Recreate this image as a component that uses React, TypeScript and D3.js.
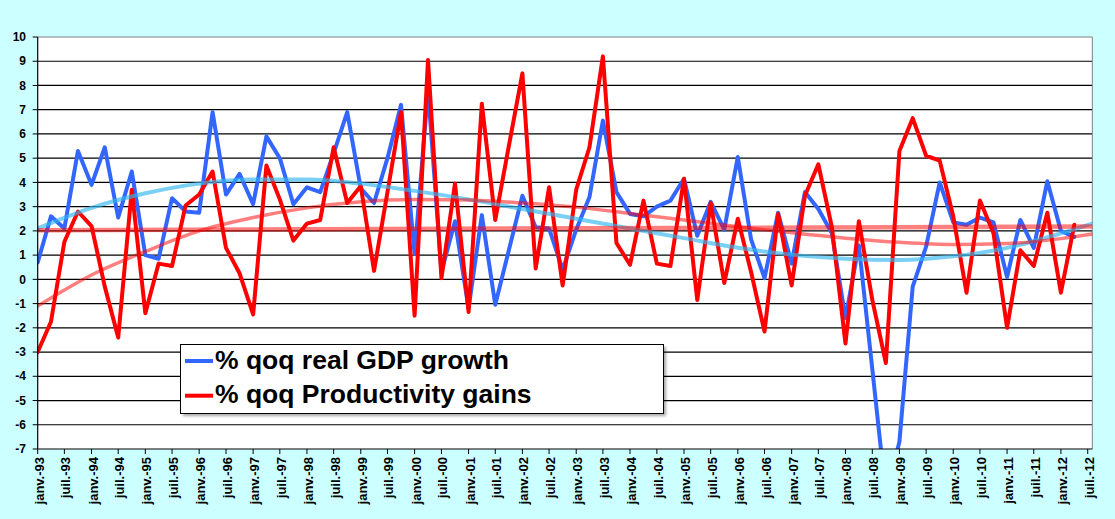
import React from 'react';
import * as d3 from 'd3';

// quarterly series, Q1 1993 .. Q2 2012 (% qoq annualised)
const gdpGrowth = [
  0.7, 2.6, 2.1, 5.3, 3.9, 5.45, 2.55, 4.45, 1.0, 0.85,
  3.35, 2.8, 2.75, 6.9, 3.5, 4.35, 3.1, 5.9, 5.0, 3.1,
  3.8, 3.6, 5.2, 6.9, 3.75, 3.15, 5.0, 7.2, 1.05, 7.8,
  0.3, 2.4, -1.2, 2.65, -1.05, 1.2, 3.45, 2.15, 2.1, 0.4,
  2.05, 3.4, 6.55, 3.6, 2.7, 2.6, 3.0, 3.25, 4.15, 1.8,
  3.2, 2.05, 5.05, 1.65, 0.05, 2.75, 0.65, 3.6, 2.9, 1.9,
  -1.6, 1.4, -3.7, -8.9, -6.7, -0.3, 1.35, 4.0, 2.35, 2.25,
  2.55, 2.35, 0.1, 2.45, 1.3, 4.05, 2.0, 1.75,
];

const productivity = [
  -3.0, -1.75, 1.55, 2.8, 2.2, -0.3, -2.4, 3.7, -1.4, 0.65,
  0.55, 3.05, 3.5, 4.45, 1.3, 0.25, -1.45, 4.7, 3.3, 1.6,
  2.3, 2.45, 5.45, 3.15, 3.85, 0.35, 3.6, 6.9, -1.5, 9.05,
  0.05, 3.95, -1.35, 7.25, 2.45, 5.5, 8.5, 0.45, 3.8, -0.25,
  3.7, 5.45, 9.2, 1.5, 0.6, 3.25, 0.65, 0.55, 4.15, -0.85,
  3.15, -0.15, 2.5, 0.3, -2.15, 2.7, -0.25, 3.45, 4.75, 2.15,
  -2.65, 2.4, -0.85, -3.45, 5.3, 6.65, 5.1, 4.9, 2.6, -0.55,
  3.25, 1.9, -2.0, 1.2, 0.55, 2.75, -0.55, 2.25,
];

// trend lines (year, value)
const trendYears = [
  1993, 1994, 1995, 1996, 1997, 1998, 1999, 2000, 2001, 2002, 2003,
  2004, 2005, 2006, 2007, 2008, 2009, 2010, 2011, 2012, 2012.58,
];
const gdpTrend = [
  2.1, 2.95, 3.55, 3.95, 4.12, 4.12, 3.95, 3.65, 3.3, 2.9, 2.5,
  2.1, 1.7, 1.3, 1.02, 0.85, 0.8, 0.95, 1.3, 1.9, 2.3,
];
const prodTrend = [
  -1.1, 0.18, 1.15, 2.0, 2.55, 2.95, 3.2, 3.3, 3.27, 3.15, 2.98,
  2.72, 2.45, 2.17, 1.92, 1.7, 1.53, 1.44, 1.48, 1.68, 1.87,
];
const prodLinearYears = [1993, 2012.58];
const prodLinear = [2.03, 2.18];

const yTicks = d3.range(-7, 11);
const legendLabels = ['% qoq real GDP growth', '% qoq Productivity gains'];

const W = 1115;
const H = 519;
const left = 37.7;
const right = 1092.3;
const top = 37;
const bottom = 449;

const BLUE = '#3366FF';
const RED = '#FF0000';
const font = '"Liberation Sans", Arial, sans-serif';

const yearToDate = (y: number) =>
  new Date(Date.UTC(1993, 0, 1) + (y - 1993) * 365.25 * 864e5);

export default function App() {
  const x = d3
    .scaleUtc()
    .domain([new Date(Date.UTC(1993, 0, 1)), new Date(Date.UTC(2012, 7, 1))])
    .range([left, right]);
  const y = d3.scaleLinear().domain([-7, 10]).range([bottom, top]);

  const dates = gdpGrowth.map((_, i) => new Date(Date.UTC(1993, 3 * i, 1)));
  const xTicks = d3.utcMonth
    .every(6)!
    .range(new Date(Date.UTC(1993, 0, 1)), new Date(Date.UTC(2012, 7, 1)));
  const fmt = (d: Date) =>
    (d.getUTCMonth() === 0 ? 'janv.-' : 'juil.-') +
    String(d.getUTCFullYear() % 100).padStart(2, '0');

  const line = d3
    .line<number>()
    .x((_, i) => x(dates[i]))
    .y((d) => y(d));

  const trend = (years: number[]) =>
    d3
      .line<number>()
      .x((_, i) => x(yearToDate(years[i])))
      .y((d) => y(d))
      .curve(d3.curveMonotoneX);

  return (
    <svg
      width={W}
      height={H}
      style={{position: 'fixed', left: 0, top: 0, display: 'block'}}
      fontFamily={font}
    >
      <defs>
        <clipPath id='plot'>
          <rect x={left} y={top} width={right - left} height={bottom - top} />
        </clipPath>
        <filter id='shadow' x='-5%' y='-20%' width='110%' height='150%'>
          <feGaussianBlur stdDeviation='1.5' />
        </filter>
      </defs>
      <rect width={W} height={H} fill='#CCFFFF' />
      <rect x={left} y={top} width={right - left} height={bottom - top} fill='#fff' />

      {/* gridlines */}
      {yTicks
        .filter((t) => t > -7 && t < 10)
        .map((t) => (
          <line key={t} x1={left} x2={right} y1={y(t)} y2={y(t)} stroke='#000' strokeWidth={1.2} />
        ))}
      <line x1={left} x2={right} y1={top} y2={top} stroke='#808080' />
      <line x1={right} x2={right} y1={top} y2={bottom} stroke='#808080' />

      <g clipPath='url(#plot)' fill='none' strokeLinejoin='round' strokeLinecap='round'>
        <path d={line(gdpGrowth)!} stroke={BLUE} strokeWidth={4} />
        <path d={line(productivity)!} stroke={RED} strokeWidth={4} />
        <path d={trend(trendYears)(gdpTrend)!} stroke='#33B5F0' strokeOpacity={0.65} strokeWidth={4} />
        <path d={trend(trendYears)(prodTrend)!} stroke={RED} strokeOpacity={0.5} strokeWidth={3.5} />
        <path d={trend(prodLinearYears)(prodLinear)!} stroke={RED} strokeOpacity={0.5} strokeWidth={4.5} />
      </g>

      {/* y axis */}
      <line x1={left} x2={left} y1={top} y2={bottom} stroke='#000' strokeWidth={1.2} />
      {yTicks.map((t) => (
        <g key={t}>
          <line x1={left - 5} x2={left} y1={y(t)} y2={y(t)} stroke='#000' />
          <text x={26} y={y(t)} dy='0.35em' textAnchor='end' fontSize={12} fontWeight='bold'>
            {t}
          </text>
        </g>
      ))}

      {/* x axis */}
      <line x1={left} x2={right} y1={bottom} y2={bottom} stroke='#000' strokeWidth={1.2} />
      {xTicks.map((d) => (
        <g key={+d}>
          <line x1={x(d)} x2={x(d)} y1={bottom} y2={bottom + 5} stroke='#000' />
          <text
            transform={`translate(${x(d)},457) rotate(-90)`}
            y={6}
            textAnchor='end'
            fontSize={13}
            fontWeight='bold'
          >
            {fmt(d)}
          </text>
        </g>
      ))}

      {/* legend */}
      <rect x={183} y={347} width={483} height={69} fill='#000' opacity={0.35} filter='url(#shadow)' />
      <rect x={180.5} y={344.5} width={483} height={69} fill='#fff' stroke='#000' />
      {legendLabels.map((label, i) => (
        <g key={label}>
          <line
            x1={185}
            x2={213}
            y1={361 + i * 34.7}
            y2={361 + i * 34.7}
            stroke={i === 0 ? BLUE : RED}
            strokeWidth={4}
          />
          <text x={215} y={369.3 + i * 34} fontSize={26.5} fontWeight='bold'>
            {label}
          </text>
        </g>
      ))}
    </svg>
  );
}
